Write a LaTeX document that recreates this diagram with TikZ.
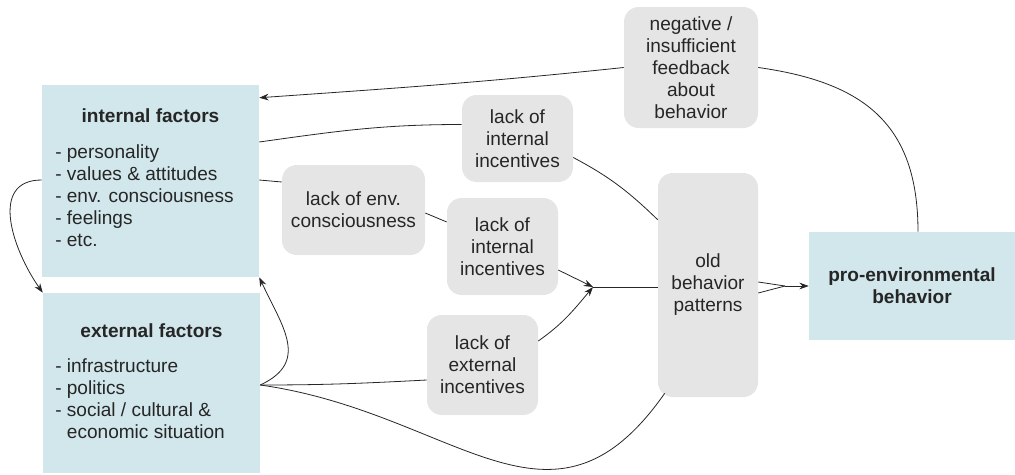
\documentclass[tikz,border=0pt]{standalone}
\usepackage{fontspec}
\setmainfont{Liberation Sans}
\usepackage{xcolor}
\usetikzlibrary{arrows.meta, positioning, calc}
\definecolor{factorblue}{RGB}{209,231,236}
\definecolor{lackgray}{RGB}{229,229,229}
\definecolor{inkgray}{RGB}{38,38,38}
\begin{document}
\begin{tikzpicture}[x=0.75pt, y=-0.75pt, >={Stealth[length=7pt, width=5pt]},
	font=\fontsize{14.3}{16.5}\selectfont, text=inkgray,
	factorbox/.style={fill=factorblue, inner sep=0pt},
	heading/.style={font=\fontsize{14.3}{16.5}\selectfont\bfseries},
	lackbox/.style={fill=lackgray, rounded corners=11pt, inner sep=0pt,
		align=center, minimum width=83.25pt},
	link/.style={draw=inkgray, line width=0.6pt}]
			\useasboundingbox (0,0) rectangle (1015,475);
			% factor boxes on the left
			\node[factorbox, minimum width=162.75pt, minimum height=144pt]
			(intf) at (150.5,181) {};
			\node[heading, anchor=base] (intftitle) at (150.5,122)
			{internal factors};
			% (base of a multi-line node = its last line)
			\node[anchor=base west, align=left, inner sep=0pt] (intflist)
			at (55,246) {- personality\\- values \& attitudes\\
				- env. consciousness\\- feelings\\- etc.};
			\node[factorbox, minimum width=162.75pt, minimum height=135pt]
			(extf) at (151.5,383) {};
			\node[heading, anchor=base] (extftitle) at (151.5,337)
			{external factors};
			\node[anchor=base west, align=left, inner sep=0pt] (extflist)
			at (55,438) {- infrastructure\\- politics\\
				- social / cultural \&\\\phantom{- }economic situation};
			% barriers
			\node[lackbox, minimum width=107.25pt, minimum height=67.5pt]
			(envc) at (353.5,210) {lack of env.\\consciousness};
			\node[lackbox, minimum height=65.25pt] (intinca) at (517.5,138.5)
			{lack of\\internal\\incentives};
			\node[lackbox, minimum height=72.75pt] (intincb) at (502.5,246.5)
			{lack of\\internal\\incentives};
			\node[lackbox, minimum height=75pt] (extinc) at (482.5,365)
			{lack of\\external\\incentives};
			\node[lackbox, minimum width=100.5pt, minimum height=90.75pt]
			(feedback) at (691,67.5)
			{negative /\\insufficient\\feedback\\about\\behavior};
			\node[lackbox, minimum width=75pt, minimum height=168pt]
			(oldbeh) at (708,285) {old\\behavior\\patterns};
			% target behavior
			\node[factorbox, heading, align=center, minimum width=154.5pt,
			minimum height=81pt] (proenv) at (912,286)
			{pro-environmental\\behavior};
			\coordinate (join) at (593,287);
			\coordinate (merge) at (785,286);
			% feedback loop
			\draw[link] ($(proenv.north)+(6,0)$) to[out=90, in=-8, looseness=1.2]
			(feedback.east);
			\draw[link, ->] (feedback.west) to[out=186, in=4]
			($(intf.north east)+(0,13)$);
			% internal paths
			\draw[link] ($(intf.east)+(0,-39)$) to[out=8, in=180]
			($(intinca.west)+(0,-14)$);
			\draw[link] ($(intinca.east)+(0,19)$) to[out=-28, in=136]
			($(oldbeh.north west)+(0,47)$);
			\draw[link] ($(intf.east)+(0,-1)$) -- ($(envc.west)+(0,-28)$);
			\draw[link] ($(envc.east)+(0,3)$) -- ($(intincb.west)+(0,-24.5)$);
			\draw[link, ->] ($(intincb.east)+(0,23.5)$) -- (join);
			% external paths
			\draw[link] ($(extf.east)+(0,2)$) to[out=0, in=183]
			($(extinc.west)+(0,15)$);
			\draw[link, ->] ($(extinc.east)+(0,-24)$) to[out=35, in=-130] (join);
			\draw[link] ($(extf.east)+(0,2)$) to[out=-8, in=-125, looseness=1.25]
			($(oldbeh.south west)+(7,-4)$);
			% into old patterns and on to behavior
			\draw[link] (join) -- (join -| oldbeh.west);
			\draw[link] ($(oldbeh.east)+(0,-3)$) -- (merge);
			\draw[link] ($(oldbeh.east)+(0,8)$) -- (merge);
			\draw[link, ->] (merge) -- (proenv.west);
			% mutual influence of the factors
			\draw[link, ->] ($(extf.east)+(0,2)$) to[out=25, in=-65, looseness=1.3]
			(intf.south east);
			\draw[link, ->] ($(intf.west)+(0,-1)$) to[out=180, in=125, looseness=1.2]
			(extf.north west);
		\end{tikzpicture}
\end{document}
